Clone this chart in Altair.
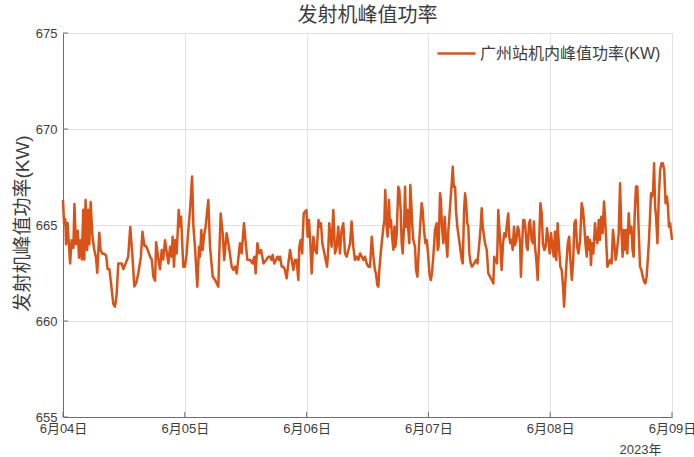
import altair as alt
import pandas as pd

# Peak transmitter power readings, minutes after 2023-06-04 00:00
minutes = [
    0, 12, 27, 36, 54, 84, 102, 123, 135, 153, 174, 189, 204, 222, 240, 252, 267, 285, 300, 312,
    327, 348, 370, 390, 405, 429, 444, 465, 489, 510, 528, 549, 567, 594, 615, 633, 654, 672, 693, 714,
    741, 771, 795, 819, 843, 867, 891, 921, 939, 963, 981, 1002, 1029, 1050, 1068, 1089, 1101, 1128, 1146, 1167,
    1185, 1206, 1246, 1266, 1284, 1296, 1312, 1328, 1344, 1368, 1384, 1396, 1422, 1442, 1462, 1482, 1502, 1526, 1542, 1560,
    1588, 1608, 1620, 1636, 1652, 1666, 1686, 1718, 1738, 1770, 1798, 1836, 1848, 1864, 1888, 1906, 1934, 1962, 1994, 2014,
    2034, 2054, 2092, 2112, 2140, 2164, 2180, 2212, 2242, 2262, 2278, 2298, 2318, 2342, 2370, 2402, 2428, 2448, 2466, 2478,
    2498, 2518, 2534, 2554, 2566, 2586, 2604, 2624, 2644, 2664, 2684, 2704, 2724, 2742, 2762, 2782, 2794, 2810, 2828, 2834,
    2846, 2862, 2878, 2892, 2908, 2924, 2940, 2960, 2980, 3000, 3020, 3034, 3050, 3066, 3082, 3098, 3122, 3136, 3148, 3160,
    3176, 3196, 3216, 3236, 3254, 3274, 3294, 3314, 3334, 3354, 3374, 3394, 3412, 3432, 3452, 3472, 3492, 3512, 3532, 3552,
    3570, 3590, 3610, 3630, 3650, 3670, 3688, 3700, 3716, 3728, 3740, 3756, 3768, 3780, 3788, 3800, 3810, 3826, 3838, 3854,
    3866, 3878, 3890, 3906, 3918, 3930, 3944, 3964, 3976, 3992, 4004, 4016, 4032, 4044, 4056, 4072, 4082, 4094, 4106, 4118,
    4130, 4142, 4162, 4174, 4190, 4206, 4222, 4240, 4252, 4268, 4284, 4300, 4316, 4332, 4348, 4362, 4378, 4398, 4418, 4430,
    4440, 4458, 4468, 4480, 4496, 4512, 4528, 4544, 4556, 4568, 4584, 4596, 4608, 4620, 4636, 4646, 4662, 4678, 4694, 4714,
    4726, 4742, 4754, 4766, 4780, 4792, 4804, 4820, 4836, 4860, 4884, 4900, 4922, 4938, 4950, 4962, 4978, 4990, 5010, 5028,
    5048, 5068, 5088, 5098, 5114, 5132, 5146, 5158, 5170, 5186, 5202, 5218, 5234, 5250, 5264, 5276, 5288, 5304, 5316, 5332,
    5344, 5360, 5376, 5388, 5404, 5414, 5426, 5442, 5454, 5466, 5482, 5494, 5510, 5522, 5540, 5556, 5568, 5580, 5596, 5612,
    5628, 5644, 5660, 5674, 5690, 5706, 5722, 5738, 5754, 5770, 5786, 5802, 5816, 5832, 5848, 5864, 5880, 5896, 5912, 5924,
    5936, 5952, 5968, 5984, 5996, 6016, 6032, 6046, 6062, 6078, 6094, 6114, 6132, 6148, 6164, 6176, 6192, 6202, 6218, 6230,
    6242, 6254, 6270, 6290, 6302, 6318, 6334, 6348, 6364, 6380, 6396, 6408, 6420, 6436, 6452, 6468, 6486, 6502, 6518, 6534,
    6550, 6570, 6586, 6600, 6616, 6628, 6640, 6656, 6672, 6688, 6704, 6720, 6734, 6746, 6758, 6774, 6790, 6806, 6822, 6838,
    6854, 6870, 6886, 6900, 6916, 6928, 6940, 6952, 6964, 6976, 6988, 7000, 7012, 7028, 7044, 7060, 7076, 7092, 7108, 7124,
    7140, 7152, 7164, 7178, 7200,
]

power = [
    666.3, 665.1, 665.3, 664.0, 665.1, 663.0, 664.2, 663.8, 666.1, 664.0, 664.7, 663.3, 664.2, 663.2, 665.8, 663.2, 666.3, 663.7, 665.8, 664.0,
    666.2, 664.4, 663.7, 663.3, 662.5, 664.6, 663.7, 663.5, 663.5, 663.4, 662.7, 662.7, 662.0, 660.9, 660.75, 661.3, 663.0, 663.0, 663.0, 662.7,
    663.0, 663.35, 664.9, 663.5, 661.8, 662.0, 662.5, 663.35, 664.65, 663.9, 663.9, 663.7, 663.35, 663.2, 662.3, 662.1, 664.1, 663.2, 662.7, 663.7,
    663.2, 664.2, 663.0, 663.87, 663.35, 664.39, 662.83, 664.22, 663.52, 665.78, 664.91, 665.43, 662.83, 662.83, 663.52, 664.74, 665.78, 667.52, 664.91, 663.87,
    661.79, 663.87, 663.35, 664.74, 663.7, 664.39, 664.91, 666.3, 663.87, 662.31, 662.14, 661.79, 663.52, 665.6, 664.57, 663.18, 664.57, 663.87, 662.83, 662.66,
    662.83, 662.48, 664.05, 663.52, 665.09, 663.87, 663.18, 663.18, 663.0, 663.35, 662.48, 664.05, 663.52, 663.7, 663.0, 663.18, 663.35, 663.35, 663.18, 663.44,
    663.0, 663.18, 663.35, 663.18, 663.35, 662.83, 662.83, 662.66, 662.22, 663.0, 663.7, 663.18, 662.66, 663.18, 663.18, 662.14, 663.87, 664.22, 663.52, 664.39,
    665.6, 665.7, 665.78, 664.39, 665.26, 664.05, 662.48, 664.39, 663.7, 663.52, 665.26, 664.91, 665.09, 664.05, 663.7, 663.35, 662.83, 663.7, 665.09, 664.57,
    663.87, 665.78, 663.52, 663.87, 664.91, 663.52, 664.74, 665.09, 663.52, 663.35, 663.7, 664.05, 665.18, 663.87, 663.18, 663.35, 663.18, 663.52, 663.35, 663.18,
    663.35, 663.0, 662.83, 662.83, 664.39, 663.35, 662.66, 662.48, 661.87, 661.79, 662.66, 663.52, 664.05, 664.57, 664.91, 665.26, 666.82, 664.91, 664.39, 666.3,
    664.91, 665.26, 664.39, 663.7, 664.91, 663.87, 664.39, 666.99, 666.82, 665.78, 664.05, 663.52, 664.91, 666.99, 664.91, 665.78, 664.74, 664.05, 667.08, 666.13,
    664.91, 664.22, 663.87, 662.66, 662.31, 663.7, 664.91, 666.13, 665.78, 664.74, 664.05, 664.22, 663.52, 662.48, 662.14, 662.48, 663.35, 664.74, 665.09, 663.7,
    663.87, 666.65, 666.3, 664.91, 664.05, 665.43, 664.22, 663.35, 664.74, 665.43, 666.48, 667.17, 668.04, 666.99, 666.99, 665.78, 664.91, 664.39, 663.87, 663.18,
    663.0, 665.78, 666.65, 666.13, 665.09, 664.91, 663.52, 663.0, 662.83, 663.0, 663.18, 663.0, 664.05, 664.91, 665.87, 664.91, 664.39, 664.05, 663.7, 662.48,
    662.31, 662.14, 661.96, 663.35, 663.18, 663.0, 665.78, 664.91, 664.05, 662.66, 664.05, 664.57, 664.39, 665.09, 665.6, 664.39, 664.05, 664.22, 663.7, 664.91,
    663.96, 664.22, 664.91, 664.74, 664.05, 662.31, 663.87, 665.26, 665.26, 664.91, 663.87, 663.7, 665.09, 665.26, 664.22, 664.05, 665.18, 663.87, 663.18, 662.14,
    664.05, 666.13, 665.6, 664.05, 663.7, 663.87, 664.83, 664.22, 663.52, 664.57, 663.87, 663.35, 664.65, 663.18, 665.09, 663.87, 662.83, 662.66, 661.79, 660.75,
    661.79, 663.0, 664.05, 664.39, 663.35, 662.14, 663.18, 665.09, 665.26, 663.87, 663.52, 664.22, 666.13, 665.78, 664.91, 664.05, 663.35, 664.39, 663.7, 664.22,
    662.92, 664.05, 663.52, 665.09, 664.39, 664.05, 665.26, 664.22, 665.43, 664.57, 666.22, 665.43, 664.39, 662.83, 663.0, 663.18, 663.0, 664.74, 664.05, 663.18,
    663.7, 664.57, 667.17, 664.91, 663.35, 664.74, 663.7, 664.74, 663.52, 665.61, 664.57, 664.91, 663.7, 663.35, 665.43, 667.0, 667.0, 664.74, 662.83, 662.66,
    662.31, 662.05, 661.96, 662.31, 663.35, 664.22, 665.43, 666.65, 666.48, 666.65, 668.21, 665.95, 665.43, 664.05, 666.48, 667.86, 668.21, 668.21, 667.86, 666.13,
    666.48, 665.95, 664.91, 665.09, 664.22,
]

series_name = "广州站机内峰值功率(KW)"
chart_title = "发射机峰值功率"
y_title = "发射机峰值功率(KW)"
year_label = "2023年"
y_ticks = [655, 660, 665, 670, 675]
day_ticks = [4, 5, 6, 7, 8, 9]

W, H = 609, 384
FONT = "Liberation Sans, Noto Sans CJK SC, sans-serif"
TEXT = "#3c3c3c"
AXIS = "#6e6e6e"
GRID = "#e2e2e2"
ORANGE = "#D95319"

start = pd.Timestamp("2023-06-04")
df = pd.DataFrame({
    "time": start + pd.to_timedelta(minutes, unit="min"),
    "power": power,
    "series": series_name,
})
xtick_df = pd.DataFrame({"time": [pd.Timestamp(2023, 6, d) for d in day_ticks]})
ytick_df = pd.DataFrame({"power": y_ticks})

days = [alt.DateTime(year=2023, month=6, date=d) for d in day_ticks]
x_scale = alt.Scale(domain=[days[0], days[-1]])
y_scale = alt.Scale(domain=[y_ticks[0], y_ticks[-1]], nice=False, zero=False)

x_axis = alt.Axis(
    values=days, format="%-m月%d日", labelFlush=False, labelOverlap=False,
    ticks=False, grid=True, gridColor=GRID, domainColor=AXIS,
    labelFont=FONT, labelFontSize=13, labelColor=TEXT, labelPadding=5,
    title=year_label, titleX=598, titleY=36, titleAlign="right",
    titleBaseline="alphabetic", titleFont=FONT, titleFontSize=13,
    titleFontWeight="normal", titleColor=TEXT,
)
y_axis = alt.Axis(
    values=y_ticks, ticks=False, grid=True, gridColor=GRID, domainColor=AXIS,
    labelFont=FONT, labelFontSize=13, labelColor=TEXT, labelPadding=6,
    title=y_title, titleX=-41, titleY=H / 2 - 2, titleAngle=270,
    titleAlign="center", titleBaseline="middle", titleFont=FONT,
    titleFontSize=19, titleFontWeight="normal", titleColor=TEXT,
)

line = alt.Chart(df).mark_line(strokeWidth=2.5, strokeJoin="round").encode(
    x=alt.X("time:T", scale=x_scale, axis=x_axis),
    y=alt.Y("power:Q", scale=y_scale, axis=y_axis),
    color=alt.Color(
        "series:N",
        scale=alt.Scale(domain=[series_name], range=[ORANGE]),
        legend=alt.Legend(
            title=None, orient="none", legendX=373, legendY=0,
            symbolType="stroke", symbolSize=1444, symbolStrokeWidth=2.5,
            labelFont=FONT, labelFontSize=16, labelColor=TEXT,
            labelOffset=3, labelLimit=400, padding=0,
        ),
    ),
)

# inward tick marks on the left and bottom axes
y_tick_marks = alt.Chart(ytick_df).mark_rule(color=AXIS, strokeWidth=1).encode(
    y=alt.Y("power:Q", scale=y_scale),
    x=alt.value(0),
    x2=alt.value(5),
)
x_tick_marks = alt.Chart(xtick_df).mark_rule(color=AXIS, strokeWidth=1).encode(
    x=alt.X("time:T", scale=x_scale),
    y=alt.value(H),
    y2=alt.value(H - 5),
)

chart = alt.layer(line, y_tick_marks, x_tick_marks).properties(
    width=W,
    height=H,
    title=alt.TitleParams(
        chart_title, font=FONT, fontSize=20, fontWeight="normal",
        color=TEXT, anchor="middle", offset=1,
    ),
    padding={"left": 63, "top": 33, "right": 22, "bottom": 40},
    autosize=alt.AutoSizeParams(type="none"),
).configure_view(stroke="transparent").configure(background="white")

chart.save("out.html", embed_options={"renderer": "svg", "actions": False})
